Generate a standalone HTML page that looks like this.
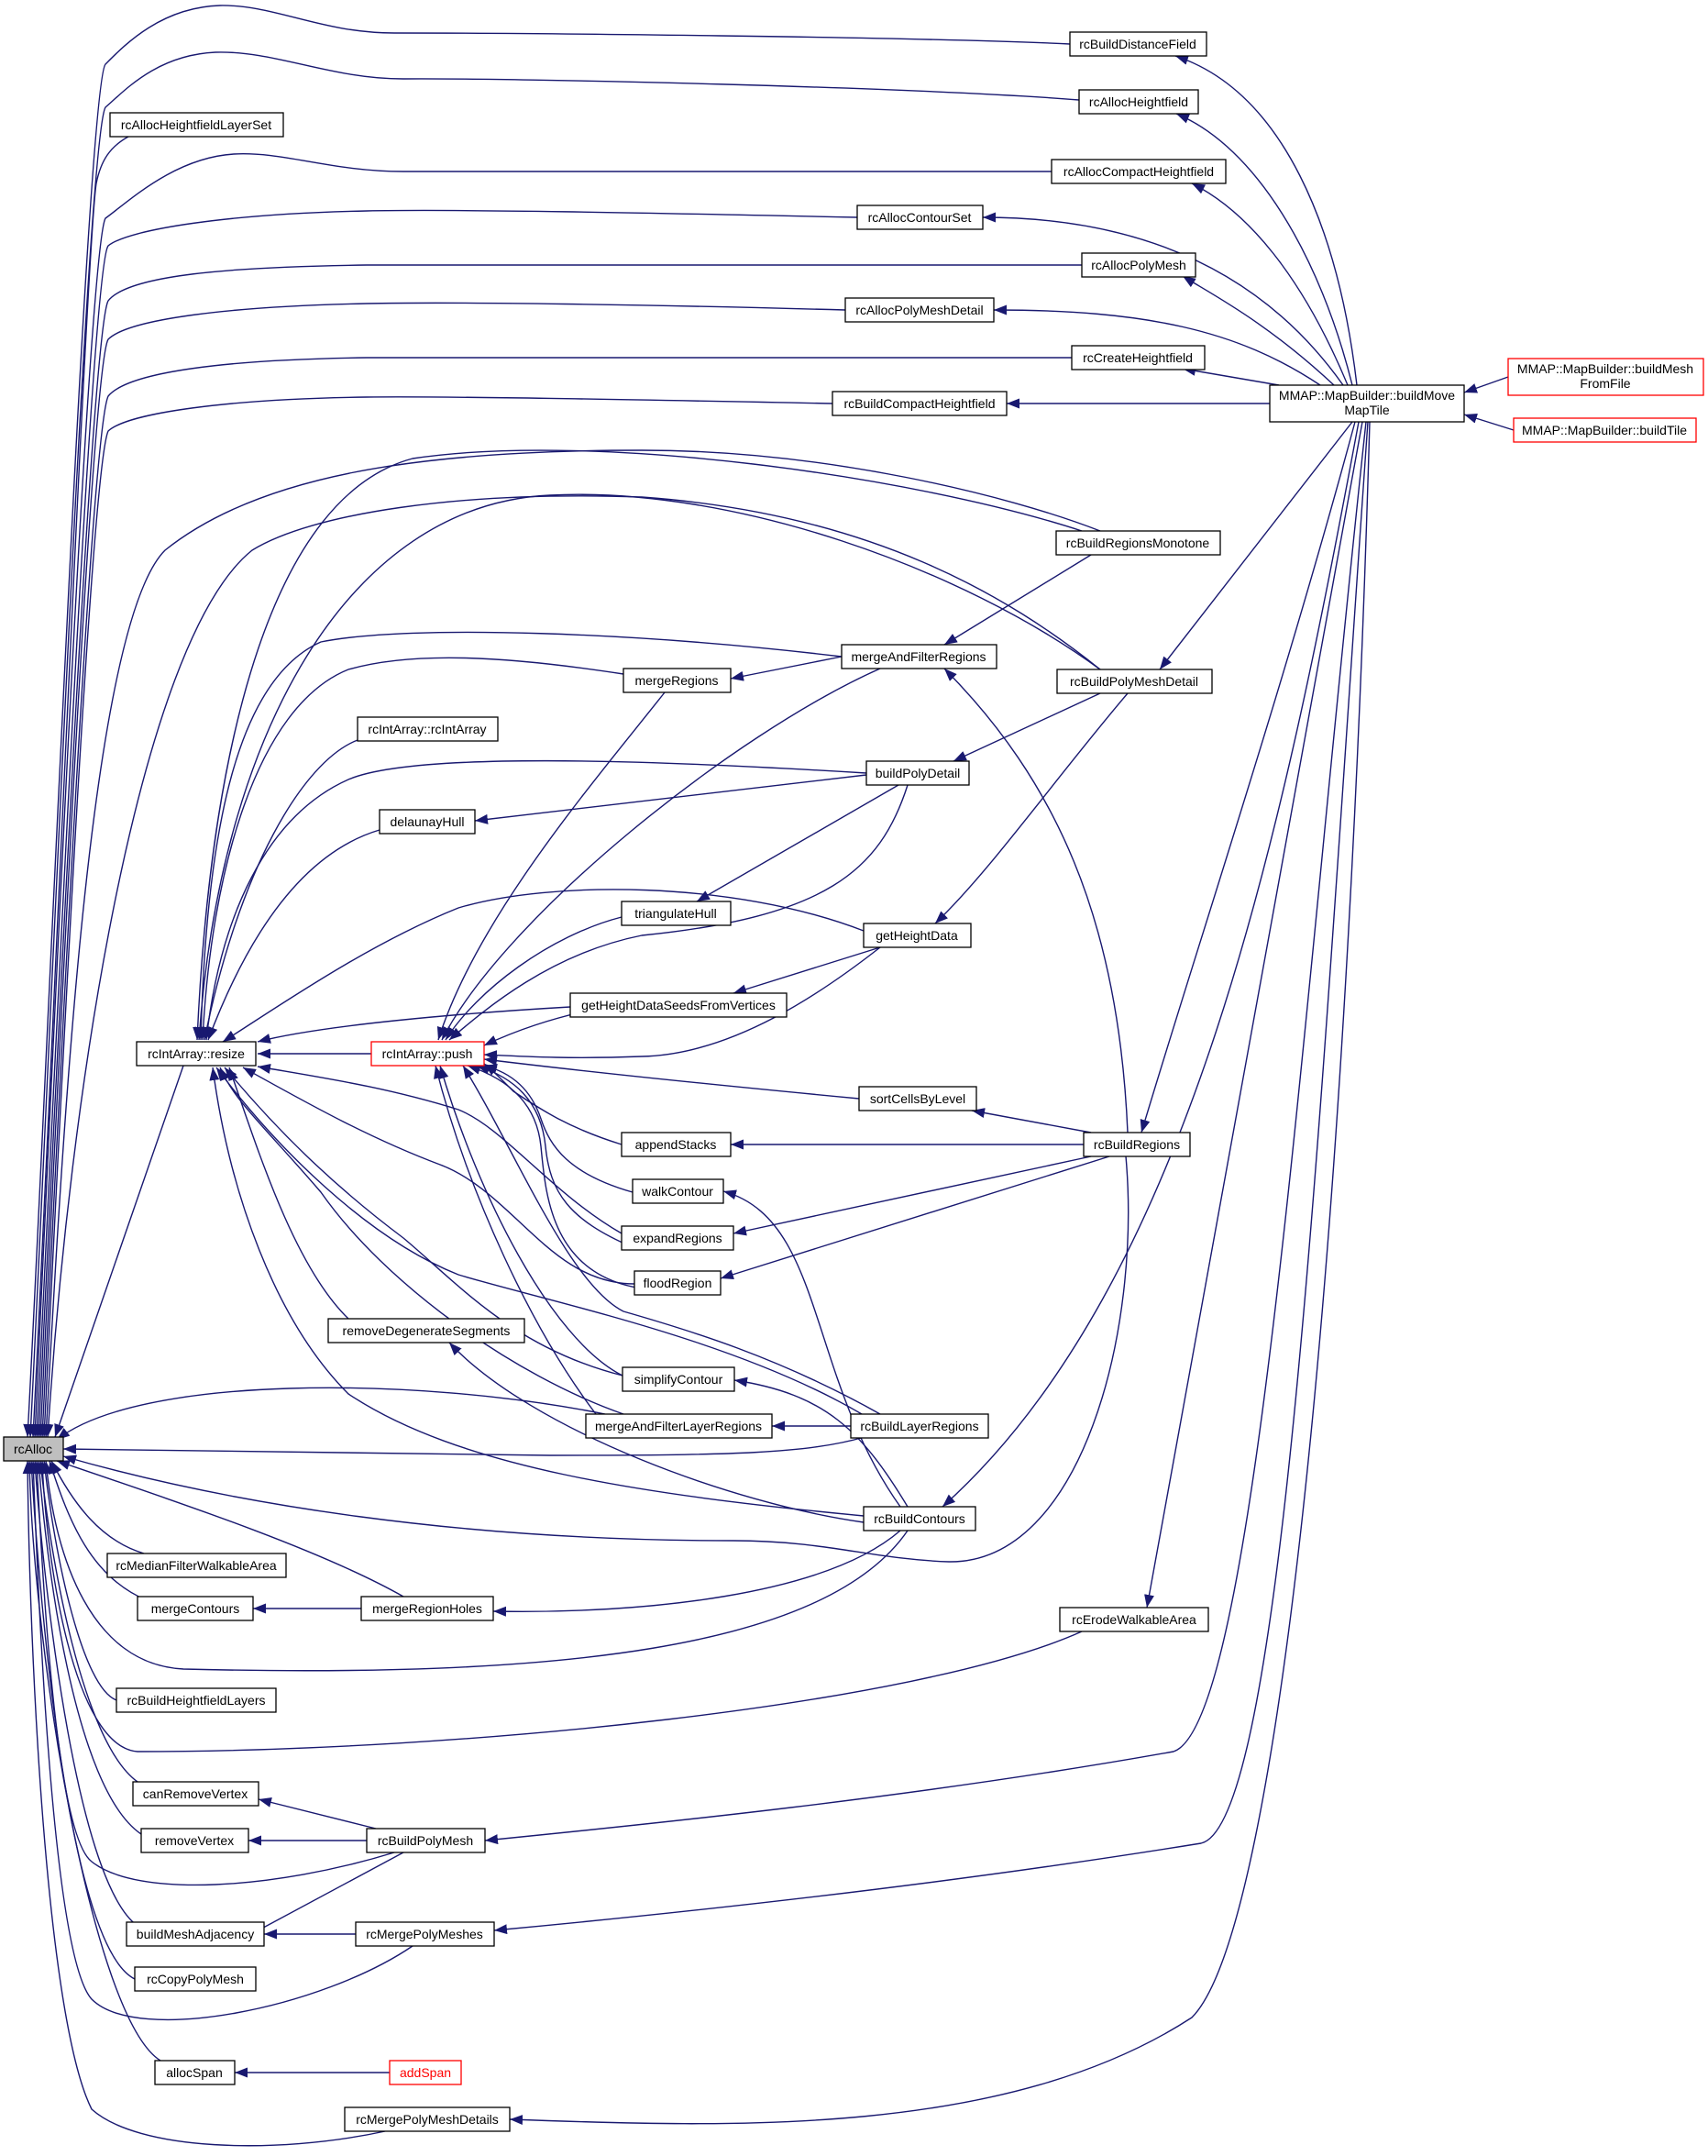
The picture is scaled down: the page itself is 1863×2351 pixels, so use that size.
<!DOCTYPE html>
<html><head><meta charset="utf-8"><style>
html,body{margin:0;padding:0;background:#fff;}
svg{display:block;}
text{font-family:"Liberation Sans",sans-serif;font-size:14px;fill:#000;}
</style></head><body>
<svg width="1863" height="2351" viewBox="0 0 1863 2351" xmlns="http://www.w3.org/2000/svg">
<defs><marker id="a" markerUnits="userSpaceOnUse" markerWidth="16" markerHeight="12" refX="14" refY="5.5" orient="auto"><path d="M0,0 L14,5.5 L0,11 z" fill="#191970"/></marker></defs>
<g fill="none" stroke="#191970" stroke-width="1.4" marker-end="url(#a)">
<path d="M1167,48 C1000,40 560,36 430,36 C350,36 300,5 240,6 C175,8 135,50 115,70 C95,95 50,1200 30,1567"/>
<path d="M1177,109 C1000,95 560,85 440,86 C360,86 300,55 235,57 C170,60 135,100 115,117 C95,150 52,1200 33,1567"/>
<path d="M140,149 C120,160 110,175 105,200 C95,260 55,1200 36,1567"/>
<path d="M1147,187 C900,187 560,187 440,187 C360,187 310,165 255,168 C190,172 140,220 115,238 C97,270 55,1200 38,1567"/>
<path d="M935,237 C700,232 500,228 400,230 C250,233 140,250 118,268 C100,290 58,1200 40,1567"/>
<path d="M1180,289 C800,289 500,287 400,289 C250,291 140,300 118,328 C100,360 60,1200 42,1567"/>
<path d="M922,338 C700,332 500,329 400,331 C250,334 140,348 118,370 C100,400 62,1200 44,1567"/>
<path d="M1169,390 C800,390 500,389 400,390 C250,392 140,405 118,432 C100,470 64,1200 46,1567"/>
<path d="M908,440 C700,436 500,432 400,433 C250,435 140,450 118,470 C100,510 66,1200 48,1567"/>
<path d="M1200,579 C1100,540 900,491 700,491 C450,491 280,520 180,600 C100,680 70,1200 50,1567"/>
<path d="M1200,730 C1100,650 950,560 700,542 C500,535 340,560 275,600 C150,700 75,1200 52,1567"/>
<path d="M200,1162 L60,1567"/>
<path d="M660,1542 C450,1500 150,1500 62,1570"/>
<path d="M943,1567 C880,1585 800,1587 600,1587 L69,1580"/>
<path d="M1228,1261 C1245,1450 1180,1705 1035,1703 C950,1700 900,1680 800,1680 C500,1680 250,1640 69,1588"/>
<path d="M440,1741 C350,1690 200,1640 62,1593"/>
<path d="M157,1694 C110,1680 80,1640 56,1593"/>
<path d="M160,1745 C100,1720 75,1660 54,1593"/>
<path d="M990,1669 C900,1800 600,1830 200,1820 C100,1815 60,1700 50,1593"/>
<path d="M127,1854 C90,1840 60,1700 48,1593"/>
<path d="M1180,1779 C1000,1860 500,1910 150,1910 C80,1905 50,1700 46,1593"/>
<path d="M150,1943 C90,1900 55,1700 44,1593"/>
<path d="M154,2000 C80,1950 50,1700 42,1593"/>
<path d="M430,2020 C300,2060 150,2070 100,2030 C60,2000 45,1700 40,1593"/>
<path d="M150,2100 C80,2050 45,1700 38,1593"/>
<path d="M450,2122 C350,2190 150,2230 100,2180 C55,2130 40,1700 36,1593"/>
<path d="M147,2158 C70,2120 40,1700 34,1593"/>
<path d="M175,2247 C100,2200 36,1800 32,1593"/>
<path d="M420,2324 C300,2350 150,2345 100,2300 C50,2200 32,1800 30,1593"/>
<path d="M1180,579 C1000,520 650,470 450,500 C300,540 230,800 215,1134"/>
<path d="M1200,730 C1050,620 800,530 600,540 C380,550 240,800 217,1134"/>
<path d="M918,716 C700,690 450,680 350,700 C260,740 225,900 219,1134"/>
<path d="M680,735 C550,715 450,710 380,730 C280,770 230,950 221,1134"/>
<path d="M390,807 C330,830 260,950 223,1134"/>
<path d="M945,843 C700,828 450,820 380,850 C290,890 240,1000 225,1134"/>
<path d="M414,905 C330,930 270,1020 227,1134"/>
<path d="M942,1015 C800,960 600,960 500,990 C400,1030 300,1100 243,1136"/>
<path d="M622,1098 C500,1105 350,1118 281,1136"/>
<path d="M405,1149 L281,1149"/>
<path d="M678,1345 C600,1300 550,1230 500,1210 C420,1185 350,1175 281,1163"/>
<path d="M692,1400 C600,1400 560,1300 480,1270 C400,1240 330,1200 265,1164"/>
<path d="M380,1438 C320,1380 280,1250 250,1164"/>
<path d="M679,1500 C560,1470 500,1400 440,1350 C360,1290 300,1230 245,1164"/>
<path d="M680,1542 C560,1500 420,1400 350,1300 C290,1230 255,1200 240,1164"/>
<path d="M940,1542 C800,1460 600,1420 500,1390 C400,1350 300,1250 236,1164"/>
<path d="M942,1653 C700,1630 500,1600 380,1520 C300,1440 250,1300 232,1164"/>
<path d="M725,755 C650,850 520,1000 478,1134"/>
<path d="M960,729 C800,800 550,1000 482,1134"/>
<path d="M678,1000 C600,1020 520,1080 486,1134"/>
<path d="M990,856 C960,950 900,1000 700,1020 C600,1040 530,1100 490,1134"/>
<path d="M660,1098 C600,1110 560,1125 528,1140"/>
<path d="M960,1033 C900,1080 800,1150 700,1152 C620,1155 570,1152 528,1150"/>
<path d="M937,1198 C800,1185 650,1170 528,1155"/>
<path d="M678,1248 C620,1230 590,1210 560,1190 C545,1175 535,1165 528,1160"/>
<path d="M690,1300 C620,1280 600,1250 590,1220 C580,1190 560,1170 528,1162"/>
<path d="M690,1360 C620,1330 600,1300 595,1250 C590,1200 560,1175 520,1162"/>
<path d="M700,1405 C600,1390 595,1300 590,1250 C585,1200 550,1175 510,1162"/>
<path d="M679,1500 C600,1460 520,1300 480,1162"/>
<path d="M650,1542 C580,1450 510,1300 475,1162"/>
<path d="M960,1542 C850,1480 750,1450 680,1430 C620,1400 560,1250 505,1162"/>
<path d="M918,716 L797,740"/>
<path d="M1190,605 L1030,703"/>
<path d="M1230,1235 C1220,1000 1150,850 1030,729"/>
<path d="M1200,756 L1040,830"/>
<path d="M945,845 L518,895"/>
<path d="M980,856 L760,983"/>
<path d="M1230,756 C1150,850 1080,950 1020,1007"/>
<path d="M960,1033 L800,1083"/>
<path d="M1190,1235 L1060,1211"/>
<path d="M1182,1248 L797,1248"/>
<path d="M1190,1261 L800,1345"/>
<path d="M1210,1261 L786,1394"/>
<path d="M982,1643 C880,1500 900,1330 789,1299"/>
<path d="M990,1643 C940,1560 900,1520 801,1505"/>
<path d="M942,1660 C800,1640 580,1560 490,1464"/>
<path d="M928,1555 L842,1555"/>
<path d="M394,1754 L276,1754"/>
<path d="M982,1669 C900,1740 700,1760 538,1757"/>
<path d="M410,1994 L282,1962"/>
<path d="M400,2007 L271,2007"/>
<path d="M440,2020 L250,2122"/>
<path d="M388,2109 L288,2109"/>
<path d="M425,2260 L256,2260"/>
<path d="M1480,420 C1460,250 1400,100 1282,61"/>
<path d="M1475,420 C1440,280 1370,160 1283,124"/>
<path d="M1470,420 C1420,300 1360,230 1300,200"/>
<path d="M1465,420 C1380,300 1250,237 1072,237"/>
<path d="M1455,420 C1380,350 1320,320 1290,301"/>
<path d="M1440,420 C1350,360 1250,338 1084,338"/>
<path d="M1395,420 L1290,402"/>
<path d="M1385,440 L1098,440"/>
<path d="M1475,460 L1265,730"/>
<path d="M1478,460 C1400,750 1300,1050 1245,1235"/>
<path d="M1482,460 C1400,900 1300,1400 1028,1643"/>
<path d="M1486,460 L1251,1753"/>
<path d="M1490,460 C1420,1100 1370,1880 1280,1910 C1000,1960 700,1990 529,2007"/>
<path d="M1492,460 C1440,1200 1400,1990 1310,2010 C1000,2060 700,2090 539,2105"/>
<path d="M1494,460 C1470,1300 1400,2100 1300,2200 C1100,2330 800,2320 556,2311"/>
<path d="M1645,411 L1597,428"/>
<path d="M1651,469 L1597,452"/>
</g>
<g stroke="#000" stroke-width="1.3" fill="#fff">
<rect x="4" y="1567" width="65" height="26" fill="#bfbfbf"/>
<rect x="1167" y="35" width="149" height="26"/>
<rect x="1177" y="98" width="130" height="26"/>
<rect x="120" y="123" width="189" height="26"/>
<rect x="1147" y="174" width="190" height="26"/>
<rect x="935" y="224" width="137" height="26"/>
<rect x="1180" y="276" width="124" height="26"/>
<rect x="922" y="325" width="162" height="26"/>
<rect x="1169" y="377" width="145" height="26"/>
<rect x="908" y="427" width="190" height="26"/>
<rect x="1385" y="420" width="212" height="40"/>
<rect x="1645" y="391" width="213" height="40" stroke="#f00"/>
<rect x="1651" y="456" width="199" height="26" stroke="#f00"/>
<rect x="1152" y="579" width="179" height="26"/>
<rect x="918" y="703" width="169" height="26"/>
<rect x="1153" y="730" width="169" height="26"/>
<rect x="680" y="729" width="117" height="26"/>
<rect x="390" y="782" width="153" height="26"/>
<rect x="945" y="830" width="112" height="26"/>
<rect x="414" y="883" width="104" height="26"/>
<rect x="678" y="983" width="119" height="26"/>
<rect x="942" y="1007" width="117" height="26"/>
<rect x="622" y="1083" width="236" height="26"/>
<rect x="149" y="1136" width="130" height="26"/>
<rect x="405" y="1136" width="123" height="26" stroke="#f00"/>
<rect x="937" y="1185" width="128" height="26"/>
<rect x="678" y="1235" width="119" height="26"/>
<rect x="1182" y="1235" width="116" height="26"/>
<rect x="690" y="1286" width="99" height="26"/>
<rect x="678" y="1337" width="122" height="26"/>
<rect x="692" y="1386" width="94" height="26"/>
<rect x="358" y="1438" width="214" height="26"/>
<rect x="679" y="1491" width="122" height="26"/>
<rect x="639" y="1542" width="203" height="26"/>
<rect x="928" y="1542" width="150" height="26"/>
<rect x="942" y="1643" width="122" height="26"/>
<rect x="117" y="1694" width="195" height="26"/>
<rect x="150" y="1741" width="126" height="26"/>
<rect x="394" y="1741" width="144" height="26"/>
<rect x="1156" y="1753" width="162" height="26"/>
<rect x="127" y="1841" width="174" height="26"/>
<rect x="145" y="1943" width="137" height="26"/>
<rect x="154" y="1994" width="117" height="26"/>
<rect x="400" y="1994" width="129" height="26"/>
<rect x="138" y="2096" width="150" height="26"/>
<rect x="388" y="2096" width="151" height="26"/>
<rect x="147" y="2145" width="132" height="26"/>
<rect x="169" y="2247" width="87" height="26"/>
<rect x="425" y="2247" width="78" height="26" stroke="#f00"/>
<rect x="376" y="2298" width="180" height="26"/>
</g>
<g text-anchor="middle">
<text x="36" y="1585">rcAlloc</text>
<text x="1241" y="53">rcBuildDistanceField</text>
<text x="1242" y="116">rcAllocHeightfield</text>
<text x="214" y="141">rcAllocHeightfieldLayerSet</text>
<text x="1242" y="192">rcAllocCompactHeightfield</text>
<text x="1003" y="242">rcAllocContourSet</text>
<text x="1242" y="294">rcAllocPolyMesh</text>
<text x="1003" y="343">rcAllocPolyMeshDetail</text>
<text x="1241" y="395">rcCreateHeightfield</text>
<text x="1003" y="445">rcBuildCompactHeightfield</text>
<text x="1491" y="436">MMAP::MapBuilder::buildMove</text>
<text x="1491" y="452">MapTile</text>
<text x="1751" y="407">MMAP::MapBuilder::buildMesh</text>
<text x="1751" y="423">FromFile</text>
<text x="1750" y="474">MMAP::MapBuilder::buildTile</text>
<text x="1241" y="597">rcBuildRegionsMonotone</text>
<text x="1002" y="721">mergeAndFilterRegions</text>
<text x="1237" y="748">rcBuildPolyMeshDetail</text>
<text x="738" y="747">mergeRegions</text>
<text x="466" y="800">rcIntArray::rcIntArray</text>
<text x="1001" y="848">buildPolyDetail</text>
<text x="466" y="901">delaunayHull</text>
<text x="737" y="1001">triangulateHull</text>
<text x="1000" y="1025">getHeightData</text>
<text x="740" y="1101">getHeightDataSeedsFromVertices</text>
<text x="214" y="1154">rcIntArray::resize</text>
<text x="466" y="1154">rcIntArray::push</text>
<text x="1001" y="1203">sortCellsByLevel</text>
<text x="737" y="1253">appendStacks</text>
<text x="1240" y="1253">rcBuildRegions</text>
<text x="739" y="1304">walkContour</text>
<text x="739" y="1355">expandRegions</text>
<text x="739" y="1404">floodRegion</text>
<text x="465" y="1456">removeDegenerateSegments</text>
<text x="740" y="1509">simplifyContour</text>
<text x="740" y="1560">mergeAndFilterLayerRegions</text>
<text x="1003" y="1560">rcBuildLayerRegions</text>
<text x="1003" y="1661">rcBuildContours</text>
<text x="214" y="1712">rcMedianFilterWalkableArea</text>
<text x="213" y="1759">mergeContours</text>
<text x="466" y="1759">mergeRegionHoles</text>
<text x="1237" y="1771">rcErodeWalkableArea</text>
<text x="214" y="1859">rcBuildHeightfieldLayers</text>
<text x="213" y="1961">canRemoveVertex</text>
<text x="212" y="2012">removeVertex</text>
<text x="464" y="2012">rcBuildPolyMesh</text>
<text x="213" y="2114">buildMeshAdjacency</text>
<text x="463" y="2114">rcMergePolyMeshes</text>
<text x="213" y="2163">rcCopyPolyMesh</text>
<text x="212" y="2265">allocSpan</text>
<text x="464" y="2265" style="fill:#f00">addSpan</text>
<text x="466" y="2316">rcMergePolyMeshDetails</text>
</g>
</svg>
</body></html>
